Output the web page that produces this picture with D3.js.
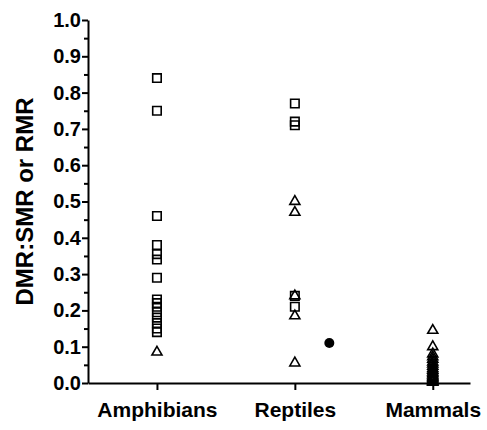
<!DOCTYPE html>
<html>
<head>
<meta charset="utf-8">
<script src="https://cdn.jsdelivr.net/npm/d3@7"></script>
<style>
  body { margin: 0; background: #fff; }
  text { font-family: Arial, "Liberation Sans", sans-serif; font-weight: bold; }
</style>
</head>
<body>
<div id="chart"></div>
<script>
// categories along the x axis
const categories = ["Amphibians", "Reptiles", "Mammals"];

// open squares (DMR:SMR) per category
const squaresAmphibians = [0.84, 0.75, 0.46, 0.38, 0.355, 0.34, 0.29, 0.23, 0.22, 0.21, 0.195, 0.18, 0.165, 0.15, 0.14];
const squaresReptiles = [0.77, 0.72, 0.71, 0.24, 0.21];

// open triangles (RMR) per category
const trianglesAmphibians = [0.085];
const trianglesReptiles = [0.50, 0.47, 0.24, 0.185, 0.055];
const trianglesMammals = [0.145, 0.10, 0.08, 0.072, 0.065, 0.058, 0.052, 0.046, 0.04, 0.035, 0.03,
  0.026, 0.022, 0.018, 0.015, 0.012, 0.009, 0.006, 0.004, 0.002];

// filled circle beside reptiles (category position 2.25)
const circlePoints = [{ pos: 2.25, y: 0.11 }];

const yTicks = [0, 0.1, 0.2, 0.3, 0.4, 0.5, 0.6, 0.7, 0.8, 0.9, 1.0];
const yMinorTicks = [0.05, 0.15, 0.25, 0.35, 0.45, 0.55, 0.65, 0.75, 0.85, 0.95];

const width = 487, height = 430;
const margin = { top: 20, right: 17, bottom: 47, left: 88 };

const svg = d3.select("#chart").append("svg")
  .attr("width", width)
  .attr("height", height);

const x = d3.scaleLinear()
  .domain([0.5, 3.27])
  .range([margin.left, width - margin.right]);

const y = d3.scaleLinear()
  .domain([0, 1])
  .range([height - margin.bottom, margin.top]);

// y axis with minor ticks
svg.append("g")
  .attr("transform", "translate(" + margin.left + ",0)")
  .call(d3.axisLeft(y).tickValues(yMinorTicks).tickSize(4).tickFormat(""))
  .call(g => g.select(".domain").remove())
  .call(g => g.selectAll("line").attr("stroke", "#000").attr("stroke-width", 2));

let yAxis = svg.append("g")
  .attr("transform", "translate(" + margin.left + ",0)")
  .call(d3.axisLeft(y).tickValues(yTicks).tickSize(6).tickSizeOuter(0).tickPadding(1).tickFormat(d3.format(".1f")));
yAxis.select(".domain").attr("stroke", "#000").attr("stroke-width", 2);
yAxis.selectAll("line").attr("stroke", "#000").attr("stroke-width", 2);
yAxis.selectAll("text").attr("fill", "#000").style("font-size", "20px");

// x axis
let xAxis = svg.append("g")
  .attr("transform", "translate(0," + y(0) + ")")
  .call(d3.axisBottom(x).tickValues([1, 2, 3]).tickSize(7).tickSizeOuter(0).tickPadding(12)
    .tickFormat(d => categories[d - 1]));
xAxis.select(".domain").attr("stroke", "#000").attr("stroke-width", 2);
xAxis.selectAll("line").attr("stroke", "#000").attr("stroke-width", 2);
xAxis.selectAll("text").attr("fill", "#000").style("font-size", "21px");

// y title
svg.append("text")
  .attr("transform", "translate(24," + y(0.5) + ") rotate(-90)")
  .attr("text-anchor", "middle")
  .attr("dominant-baseline", "central")
  .style("font-size", "24px")
  .text("DMR:SMR or RMR");

const sq = d3.symbol().type(d3.symbolSquare).size(72);
const tri = d3.symbol().type(d3.symbolTriangle).size(44);

function drawSet(values, pos, symbol) {
  svg.append("g").selectAll("path")
    .data(values)
    .enter()
    .append("path")
    .attr("d", symbol)
    .attr("transform", d => "translate(" + x(pos) + "," + y(d) + ")")
    .attr("fill", "none")
    .attr("stroke", "#000")
    .attr("stroke-width", 1.6);
}

drawSet(squaresAmphibians, 1, sq);
drawSet(squaresReptiles, 2, sq);
drawSet(trianglesAmphibians, 1, tri);
drawSet(trianglesReptiles, 2, tri);
drawSet(trianglesMammals, 3, tri);

svg.append("g").selectAll("circle")
  .data(circlePoints)
  .enter()
  .append("circle")
  .attr("cx", d => x(d.pos))
  .attr("cy", d => y(d.y))
  .attr("r", 5)
  .attr("fill", "#000");
</script>
</body>
</html>
